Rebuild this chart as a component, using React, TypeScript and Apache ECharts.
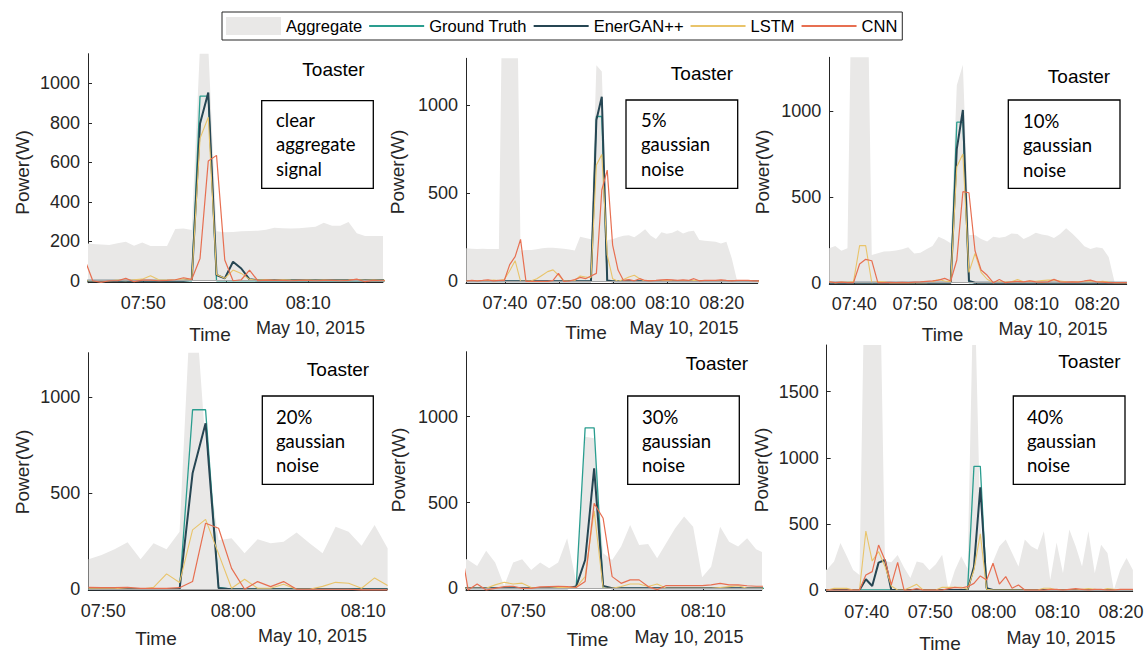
import React, { useEffect, useRef } from "react";
import * as echarts from "echarts";

// One reading per minute; index k is counted from 07:56:52 (first toaster sample).
const BASE_MIN = 476.87;

const seriesNames = ["Aggregate", "Ground Truth", "EnerGAN++", "LSTM", "CNN"];
const applianceName = "Toaster";
const dateLabel = "May 10, 2015";
const xAxisTitle = "Time";
const yAxisTitle = "Power(W)";

// ---------- Panel 1 : clear aggregate signal (k = -14 … 23)
const p1Start = -14;
const p1Label = ["clear", "aggregate", "signal"];
const p1Aggregate = [190, 186, 184, 181, 190, 198, 177, 194, 176, 176, 176, 262, 265, 257, 1190, 1185, 250, 245, 247, 250, 252, 253, 258, 268, 266, 265, 266, 270, 273, 294, 279, 279, 297, 240, 226, 226, 226, 226];
const p1GroundTruth = [0, 0, 0, 0, 0, 0, 0, 0, 0, 0, 0, 0, 0, 0, 935, 935, 0, 0, 0, 0, 0, 0, 0, 0, 0, 0, 0, 0, 0, 0, 0, 0, 0, 0, 0, 0, 0, 0];
const p1EnerGAN = [0, 0, 0, 0, 0, 0, 0, 0, 0, 0, 0, 0, 0, 5, 797, 953, 29, 12, 96, 62, 7, 2, 2, 2, 2, 2, 2, 2, 2, 2, 2, 2, 2, 2, 2, 2, 2, 2];
const p1LSTM = [0, 0, 0, 0, 3, 0, 5, 8, 25, 5, 3, 5, 10, 5, 721, 828, 32, 12, 54, 37, 7, 3, 5, 2, 5, 3, 2, 3, 2, 3, 2, 2, 3, 5, 2, 3, 2, 2];
const p1CNN = [110, 0, -8, 0, 0, 12, -5, 3, 3, 0, 2, 5, 15, 7, 113, 606, 635, 105, 0, 5, 54, 0, 3, 2, 2, 0, 2, 2, 0, 2, 2, 0, 2, 8, -5, 2, 0, 0];
const p1YTicks = [0, 200, 400, 600, 800, 1000];
const p1XTicks = [470, 480, 490];

// ---------- Panel 2 : 5% gaussian noise (k = -24 … 30)
const p2Start = -24;
const p2Label = ["5%", "gaussian", "noise"];
const p2Aggregate = [187, 185, 183, 185, 183, 183, 183, 2500, 2500, 2500, 175, 178, 178, 182, 187, 190, 190, 187, 185, 180, 175, 253, 246, 238, 1225, 1190, 234, 238, 250, 258, 262, 250, 272, 295, 260, 240, 278, 270, 275, 290, 272, 282, 287, 234, 230, 228, 225, 215, 225, 130, 0, 0, 0, 0, 0];
const p2GroundTruth = [0, 0, 0, 0, 0, 0, 0, 0, 0, 0, 0, 0, 0, 0, 0, 0, 0, 0, 0, 0, 0, 0, 0, 0, 935, 935, 0, 0, 0, 0, 0, 0, 0, 0, 0, 0, 0, 0, 0, 0, 0, 0, 0, 0, 0, 0, 0, 0, 0, 0, 0, 0, 0, 0, 0];
const p2EnerGAN = [0, 0, 0, 0, 0, 0, 0, 0, 0, 0, 0, 0, 0, 0, 0, 0, 0, 0, 0, 0, 0, 0, 0, 0, 915, 1047, 5, 0, 0, 0, 0, 0, 0, 0, 0, 0, 0, 0, 0, 0, 0, 0, 0, 0, 0, 0, 0, 0, 0, 0, 0, 0, 0, 0, 0];
const p2LSTM = [2, 3, 5, 5, 3, 8, 5, 10, 60, 117, 0, 0, 3, 15, 35, 55, 65, 35, 3, 0, 5, 30, 25, 20, 660, 720, 150, 15, 0, 10, 25, 35, 15, 0, 3, 2, 3, 5, 3, 2, 3, 2, 5, 3, 2, 2, 3, 2, 2, 2, 0, 0, 0, 0, 0];
const p2CNN = [2, 5, 3, 5, 8, 3, 5, 5, 95, 140, 238, 0, 0, 0, 0, 0, 5, 45, 0, 2, 10, 22, 15, 30, 45, 518, 631, 206, 64, 5, 10, 3, 15, 5, 3, 5, 8, 10, 8, 5, 8, 5, 15, 3, 5, 5, 5, 8, 5, 3, 5, 5, 5, 3, 3];
const p2YTicks = [0, 500, 1000];
const p2XTicks = [460, 470, 480, 490, 500];

// ---------- Panel 3 : 10% gaussian noise (k = -21 … 28)
const p3Start = -21;
const p3Label = ["10%", "gaussian", "noise"];
const p3Aggregate = [200, 214, 186, 200, 2500, 2500, 2500, 161, 172, 181, 183, 188, 195, 206, 170, 175, 195, 213, 268, 252, 229, 1150, 1270, 278, 278, 255, 240, 268, 262, 268, 287, 283, 255, 270, 291, 280, 275, 260, 283, 317, 287, 252, 212, 196, 206, 200, 150, 0, 0, 0];
const p3GroundTruth = [0, 0, 0, 0, 0, 0, 0, 0, 0, 0, 0, 0, 0, 0, 0, 0, 0, 0, 0, 0, 0, 935, 935, 0, 0, 0, 0, 0, 0, 0, 0, 0, 0, 0, 0, 0, 0, 0, 0, 0, 0, 0, 0, 0, 0, 0, 0, 0, 0, 0];
const p3EnerGAN = [0, 0, 0, 0, 0, 0, 0, 0, 0, 0, 0, 0, 0, 0, 0, 0, 0, 0, 0, 0, 0, 780, 1006, 10, 0, 0, 0, 0, 0, 0, 0, 0, 0, 0, 0, 0, 0, 0, 0, 0, 0, 0, 0, 0, 0, 0, 0, 0, 0, 0];
const p3LSTM = [5, 0, 3, 2, 6, 216, 216, 0, 6, 5, 0, 0, 0, 0, 0, 0, 0, 5, 19, 10, 5, 676, 750, 60, 170, 60, 20, 0, 5, 3, 5, 19, 5, 10, 8, 12, 15, 15, 10, 5, 3, 5, 3, 5, 3, 8, 3, 0, 0, 0];
const p3CNN = [5, 0, 3, 0, 0, 109, 136, 128, 0, 0, 2, 0, 2, 0, 3, 5, 8, 10, 15, 25, 10, 132, 530, 524, 186, 74, 43, 0, 19, 0, 5, 8, 5, 10, 5, 3, 5, 19, 5, 3, 5, 3, 10, 15, 5, 3, 0, 0, 0, 0];
const p3YTicks = [0, 500, 1000];
const p3XTicks = [460, 470, 480, 490, 500];

// ---------- Panel 4 : 20% gaussian noise (k = -8 … 15)
const p4Start = -8;
const p4Label = ["20%", "gaussian", "noise"];
const p4Aggregate = [156, 179, 208, 245, 156, 240, 208, 300, 1700, 750, 255, 266, 187, 260, 240, 248, 295, 240, 187, 326, 300, 226, 335, 213];
const p4GroundTruth = [0, 0, 0, 0, 0, 0, 0, 0, 935, 935, 10, 0, 0, 0, 0, 0, 0, 0, 0, 0, 0, 0, 0, 0];
const p4EnerGAN = [0, 0, 0, 0, 0, 0, 0, 0, 604, 864, 5, 0, 0, 0, 0, 0, 0, 0, 0, 0, 0, 0, 0, 0];
const p4LSTM = [5, 5, 5, 0, 0, 10, 80, 35, 309, 364, 184, 5, 52, 5, 5, 26, 0, 0, 15, 36, 31, 5, 59, 20];
const p4CNN = [10, 8, 8, 10, 5, 5, 5, 8, 40, 344, 318, 109, 0, 40, 14, 40, 0, 0, 0, 0, 0, -3, -3, -3];
const p4YTicks = [0, 500, 1000];
const p4XTicks = [470, 480, 490];

// ---------- Panel 5 : 30% gaussian noise (k = -14 … 20)
const p5Start = -14;
const p5Label = ["30%", "gaussian", "noise"];
const p5Aggregate = [190, 165, 130, 219, 150, 15, 150, 169, 107, 150, 117, 150, 291, 40, 883, 874, 204, 165, 243, 369, 252, 258, 175, 262, 350, 418, 359, 64, 126, 359, 272, 243, 291, 227, 204];
const p5GroundTruth = [0, 0, 0, 0, 0, 0, 0, 0, 0, 0, 0, 0, 0, 0, 935, 935, 0, 0, 0, 0, 0, 0, 0, 0, 0, 0, 0, 0, 0, 0, 0, 0, 0, 0, 0];
const p5EnerGAN = [0, 0, 0, 0, 0, 0, 0, 0, 0, 0, 0, 0, 0, 10, 165, 699, 14, 0, 0, 0, 0, 0, 0, 0, 0, 0, 0, 0, 0, 0, 0, 0, 0, 0, 0];
const p5LSTM = [0, 0, 0, 0, 20, 35, 25, 30, 5, 0, 0, 5, 5, 5, 68, 452, 0, 0, 10, 25, 25, 10, 25, 0, 0, 0, 0, 0, 0, 5, 10, 15, 0, 0, 0];
const p5CNN = [300, -10, 25, -10, 0, 10, 12, 0, 0, 8, 10, 12, 10, 5, 40, 495, 408, 68, 29, 49, 49, 10, -8, 16, 16, 16, 16, 16, 20, 29, 20, 20, 15, 12, 12];
const p5YTicks = [0, 500, 1000];
const p5XTicks = [470, 480, 490];

// ---------- Panel 6 : 40% gaussian noise (k = -24 … 25)
const p6Start = -24;
const p6Label = ["40%", "gaussian", "noise"];
const p6Aggregate = [130, 160, 215, 355, 255, 152, 114, 3000, 3000, 3000, 220, 210, 265, 170, 90, 215, 205, 150, 195, 266, 0, 150, 255, 160, 2500, 500, 76, 216, 330, 381, 280, 178, 381, 330, 305, 444, 76, 360, 127, 457, 330, 178, 444, 127, 343, 279, 0, 152, 241, 152];
const p6GroundTruth = [0, 0, 0, 0, 0, 0, 0, 0, 0, 0, 0, 0, 0, 0, 0, 0, 0, 0, 0, 0, 0, 0, 0, 0, 935, 935, 0, 0, 0, 0, 0, 0, 0, 0, 0, 0, 0, 0, 0, 0, 0, 0, 0, 0, 0, 0, 0, 0, 0, 0];
const p6EnerGAN = [0, 0, 0, 0, 0, 0, 0, 81, 30, 207, 227, 0, 0, 0, 0, 0, 0, 0, 0, 0, 0, 0, 0, 0, 176, 777, 13, 0, 0, 0, 0, 0, 0, 0, 0, 0, 0, 0, 0, 0, 0, 0, 0, 0, 0, 0, 0, 0, 0, 0];
const p6LSTM = [0, 0, 12, 12, 12, 0, 0, 446, 219, 290, 180, 30, 0, 0, 20, 43, 0, 0, 0, 20, 20, 20, 20, 5, 151, 424, 5, 0, 0, 0, 0, 0, 0, 0, 0, 13, 13, 0, 0, 0, 0, 5, 10, 5, 0, 10, 5, 0, 0, 0];
const p6CNN = [0, 0, 0, 0, 0, 0, 0, 113, 139, 340, 227, 38, 209, 0, 0, 10, 0, 0, 0, 0, 10, 20, 15, 25, 50, 106, 76, 202, 45, 101, 13, 38, 0, 0, 0, 0, 5, 5, 0, 5, 10, 5, 0, 5, 5, 0, 0, 5, 5, 5];
const p6YTicks = [0, 500, 1000, 1500];
const p6XTicks = [460, 470, 480, 490, 500];

// ---------- styling / layout (not data)
const COLORS = {
  agg: "#e9e8e7",
  gt: "#2a9d8f",
  gan: "#264653",
  lstm: "#e9c46a",
  cnn: "#e76f51",
  axis: "#262626",
};
const SANS = "'Liberation Sans', Arial, Helvetica, sans-serif";
const BOXFONT = "Lato, 'Open Sans', sans-serif";

const panelData = [
  { start: p1Start, agg: p1Aggregate, gt: p1GroundTruth, gan: p1EnerGAN, lstm: p1LSTM, cnn: p1CNN, label: p1Label, yTicks: p1YTicks, xTicks: p1XTicks },
  { start: p2Start, agg: p2Aggregate, gt: p2GroundTruth, gan: p2EnerGAN, lstm: p2LSTM, cnn: p2CNN, label: p2Label, yTicks: p2YTicks, xTicks: p2XTicks },
  { start: p3Start, agg: p3Aggregate, gt: p3GroundTruth, gan: p3EnerGAN, lstm: p3LSTM, cnn: p3CNN, label: p3Label, yTicks: p3YTicks, xTicks: p3XTicks },
  { start: p4Start, agg: p4Aggregate, gt: p4GroundTruth, gan: p4EnerGAN, lstm: p4LSTM, cnn: p4CNN, label: p4Label, yTicks: p4YTicks, xTicks: p4XTicks },
  { start: p5Start, agg: p5Aggregate, gt: p5GroundTruth, gan: p5EnerGAN, lstm: p5LSTM, cnn: p5CNN, label: p5Label, yTicks: p5YTicks, xTicks: p5XTicks },
  { start: p6Start, agg: p6Aggregate, gt: p6GroundTruth, gan: p6EnerGAN, lstm: p6LSTM, cnn: p6CNN, label: p6Label, yTicks: p6YTicks, xTicks: p6XTicks },
];

const layout = [
  { grid: { left: 88, top: 53.7, width: 295, height: 229 }, x: [463.29, 499.05], y: [-10, 1150], power: [22, 172.5], time: [210, 334], date: [310.5, 328.4], toaster: [333.5, 69], box: [261.7, 100.7, 111.6, 87.6], textX: 276, textY: [119.5, 144, 168.5] },
  { grid: { left: 466, top: 58.3, width: 291.7, height: 224.8 }, x: [452.8, 506.65], y: [-10, 1265], power: [397, 172], time: [586, 332], date: [684, 327.7], toaster: [702, 73], box: [626, 100, 111.7, 88.3], textX: 641, textY: [119.5, 144, 168.5] },
  { grid: { left: 829.3, top: 57.3, width: 297.4, height: 227.1 }, x: [455.88, 504.84], y: [-10, 1313], power: [762, 172], time: [942.5, 334], date: [1053, 329.4], toaster: [1079, 76], box: [1008.3, 100, 111.7, 88.3], textX: 1023, textY: [121, 145, 169.5] },
  { grid: { left: 88.3, top: 352.7, width: 298.4, height: 237.9 }, x: [468.85, 491.8], y: [-7, 1232], power: [22, 472], time: [156, 638.7], date: [312.5, 636], toaster: [338, 369], box: [262.3, 396, 111, 88.3], textX: 276, textY: [416.5, 440.5, 464.5] },
  { grid: { left: 466, top: 351.7, width: 295.7, height: 239 }, x: [463.63, 496.49], y: [-14, 1379], power: [398, 470], time: [587.5, 639.7], date: [689, 636.7], toaster: [717, 363], box: [627.7, 396, 111.6, 88.3], textX: 642, textY: [416.5, 440.5, 465] },
  { grid: { left: 826.7, top: 345, width: 306, height: 246.7 }, x: [453.71, 501.84], y: [-13, 1853], power: [761, 470], time: [940, 643], date: [1061, 637.7], toaster: [1089.5, 361], box: [1013.3, 396, 111.7, 88.3], textX: 1027, textY: [416.5, 440.5, 465] },
];

const toPairs = (start: number, values: number[]) =>
  values.map((v, i) => [BASE_MIN + start + i, v]);

const hhmm = (v: number) => {
  const total = Math.round(v);
  const h = Math.floor(total / 60);
  const m = total % 60;
  return `${String(h).padStart(2, "0")}:${String(m).padStart(2, "0")}`;
};

function buildOption() {
  const grids: any[] = [];
  const xAxes: any[] = [];
  const yAxes: any[] = [];
  const series: any[] = [];
  const graphic: any[] = [];

  panelData.forEach((p, i) => {
    const L = layout[i];
    grids.push({ ...L.grid, containLabel: false, outerBoundsMode: "none", show: false });
    xAxes.push({
      type: "value",
      gridIndex: i,
      min: L.x[0],
      max: L.x[1],
      axisLine: { show: true, onZero: false, lineStyle: { color: COLORS.axis, width: 1 } },
      axisTick: { show: true, inside: true, length: 4, customValues: p.xTicks, lineStyle: { color: COLORS.axis } },
      axisLabel: { customValues: p.xTicks, formatter: hhmm, fontSize: 18, fontFamily: SANS, color: COLORS.axis, margin: 11 },
      splitLine: { show: false },
    });
    yAxes.push({
      type: "value",
      gridIndex: i,
      min: L.y[0],
      max: L.y[1],
      axisLine: { show: true, onZero: false, lineStyle: { color: COLORS.axis, width: 1 } },
      axisTick: { show: true, inside: true, length: 4, customValues: p.yTicks, lineStyle: { color: COLORS.axis } },
      axisLabel: { customValues: p.yTicks, formatter: (v: number) => String(v), fontSize: 18, fontFamily: SANS, color: COLORS.axis, margin: 8 },
      splitLine: { show: false },
    });

    series.push({
      type: "line",
      name: seriesNames[0],
      xAxisIndex: i,
      yAxisIndex: i,
      data: toPairs(p.start, p.agg),
      symbol: "none",
      showSymbol: false,
      lineStyle: { width: 0, opacity: 0 },
      itemStyle: { color: COLORS.agg },
      areaStyle: { color: COLORS.agg, opacity: 1 },
      z: 1,
      markLine: {
        silent: true,
        symbol: "none",
        label: { show: false },
        lineStyle: { color: "#a8a8a8", width: 1, type: "solid" },
        data: [{ yAxis: 0 }],
      },
    });
    const lines = [
      { name: seriesNames[1], data: p.gt, color: COLORS.gt, width: 1.3 },
      { name: seriesNames[2], data: p.gan, color: COLORS.gan, width: 2 },
      { name: seriesNames[3], data: p.lstm, color: COLORS.lstm, width: 1.1 },
      { name: seriesNames[4], data: p.cnn, color: COLORS.cnn, width: 1.2 },
    ];
    lines.forEach((s, j) => {
      series.push({
        type: "line",
        name: s.name,
        xAxisIndex: i,
        yAxisIndex: i,
        data: toPairs(p.start, s.data),
        symbol: "none",
        showSymbol: false,
        itemStyle: { color: s.color },
        lineStyle: { color: s.color, width: s.width },
        z: 2 + j,
      });
    });

    // axis titles and annotations
    graphic.push({
      type: "text",
      x: L.power[0],
      y: L.power[1],
      rotation: Math.PI / 2,
      z: 100,
      style: { text: yAxisTitle, fontSize: 19, fontFamily: SANS, fill: COLORS.axis, align: "center", verticalAlign: "middle" },
    });
    graphic.push({
      type: "text",
      x: L.time[0],
      y: L.time[1],
      z: 100,
      style: { text: xAxisTitle, fontSize: 19, fontFamily: SANS, fill: COLORS.axis, align: "center", verticalAlign: "middle" },
    });
    graphic.push({
      type: "text",
      x: L.date[0],
      y: L.date[1],
      z: 100,
      style: { text: dateLabel, fontSize: 18, fontFamily: SANS, fill: COLORS.axis, align: "center", verticalAlign: "middle" },
    });
    graphic.push({
      type: "text",
      x: L.toaster[0],
      y: L.toaster[1],
      z: 100,
      style: { text: applianceName, fontSize: 19, fontFamily: SANS, fill: "#000", align: "center", verticalAlign: "middle" },
    });
    graphic.push({
      type: "rect",
      z: 100,
      shape: { x: L.box[0], y: L.box[1], width: L.box[2], height: L.box[3] },
      style: { fill: "#fff", stroke: "#000", lineWidth: 1.3 },
    });
    p.label.forEach((line, j) => {
      graphic.push({
        type: "text",
        x: L.textX,
        y: L.textY[j],
        z: 101,
        style: { text: line, fontSize: 18.5, fontFamily: BOXFONT, fill: "#000", align: "left", verticalAlign: "middle" },
      });
    });
  });

  return {
    animation: false,
    backgroundColor: "#fff",
    legend: {
      left: 222,
      top: 12,
      orient: "horizontal",
      itemWidth: 55,
      itemHeight: 18,
      itemGap: 6,
      padding: [5, 5, 5, 4],
      borderColor: "#262626",
      borderWidth: 1,
      itemStyle: { color: "rgba(0,0,0,0)", borderWidth: 0, opacity: 0 },
      textStyle: { fontSize: 16.5, fontFamily: SANS, color: "#000" },
      data: [
        { name: seriesNames[0], icon: "rect", itemStyle: { color: COLORS.agg, borderWidth: 0, opacity: 1 } },
        { name: seriesNames[1] },
        { name: seriesNames[2] },
        { name: seriesNames[3] },
        { name: seriesNames[4] },
      ],
    },
    grid: grids,
    xAxis: xAxes,
    yAxis: yAxes,
    series,
    graphic,
  };
}

export default function App() {
  const ref = useRef<HTMLDivElement>(null);
  useEffect(() => {
    if (!ref.current) return;
    const chart = echarts.init(ref.current, null, { renderer: "svg" });
    chart.setOption(buildOption() as any);
    return () => chart.dispose();
  }, []);
  return (
    <div
      ref={ref}
      style={{ position: "absolute", left: 0, top: 0, width: 1145, height: 652, background: "#fff" }}
    />
  );
}
